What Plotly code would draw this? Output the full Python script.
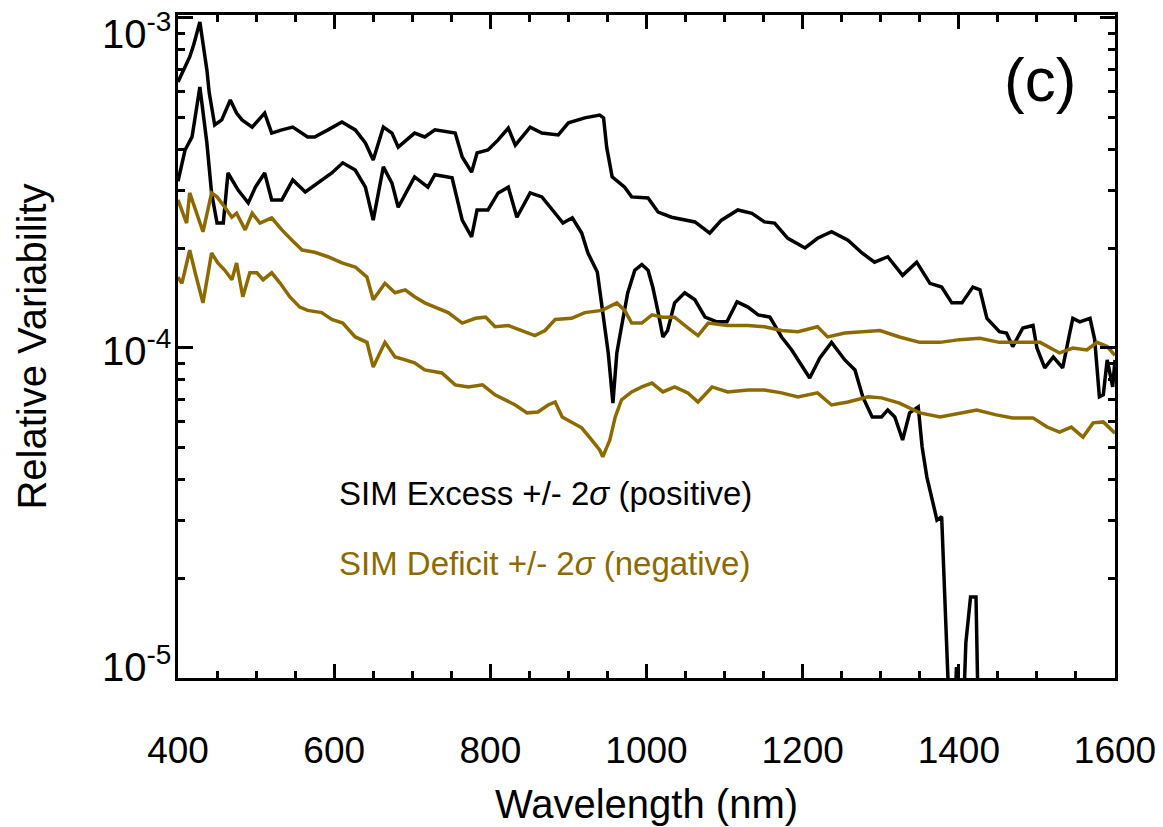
import numpy as np
import plotly.graph_objects as go

# ---- data (values in units of 1e-4) ----
wl_excess_hi = [400, 405, 415, 420, 428, 437, 440, 447, 456, 467, 475, 482, 495, 511, 520, 533, 547, 566, 575,
                592, 610, 627, 640, 650, 663, 674, 682, 703, 716, 729, 755, 764, 776, 783, 797, 810, 823,
                832, 851, 866, 887, 900, 921, 940, 945, 949, 956, 972, 981, 1002, 1015, 1032, 1062, 1081,
                1096, 1117, 1135, 1151, 1164, 1181, 1203, 1219, 1237, 1258, 1276, 1292, 1309, 1328, 1346,
                1363, 1378, 1391, 1404, 1418, 1427, 1436, 1452, 1461, 1469, 1482, 1495, 1500, 1510, 1521,
                1533, 1542, 1546, 1555, 1568, 1574, 1580, 1585, 1590, 1597, 1600]
excess_hi = [6.40, 6.81, 7.62, 8.28, 9.72, 6.96, 5.93, 4.74, 4.91, 5.64, 5.15, 4.91, 4.67, 5.15, 4.48, 4.58,
             4.67, 4.36, 4.36, 4.58, 4.84, 4.58, 4.18, 3.71, 4.67, 4.48, 4.06, 4.48, 4.36, 4.58, 4.48, 3.79,
             3.41, 3.90, 3.98, 4.27, 4.64, 4.12, 4.67, 4.48, 4.42, 4.81, 4.98, 5.08, 4.98, 4.06, 3.30, 3.07,
             2.87, 2.85, 2.58, 2.49, 2.41, 2.23, 2.44, 2.62, 2.56, 2.41, 2.39, 2.15, 2.01, 2.15, 2.25, 2.12,
             1.94, 1.82, 1.89, 1.66, 1.82, 1.57, 1.53, 1.37, 1.37, 1.53, 1.50, 1.23, 1.12, 1.11, 1.01, 1.15,
             1.17, 1.00, 0.870, 0.939, 0.870, 1.11, 1.23, 1.20, 1.23, 1.06, 0.711, 0.721, 0.920, 0.762, 0.92]

wl_excess_lo = [400, 409, 418, 428, 437, 443, 450, 458, 464, 477, 490, 499, 511, 520, 533, 547, 563, 579, 597,
                611, 627, 640, 650, 663, 674, 682, 703, 720, 729, 751, 764, 776, 783, 797, 810, 823, 834,
                851, 866, 883, 893, 905, 917, 925, 937, 944, 951, 957, 962, 968, 976, 985, 994, 1002, 1008,
                1015, 1021, 1027, 1036, 1049, 1062, 1075, 1090, 1103, 1116, 1130, 1143, 1158, 1173, 1186,
                1200, 1209, 1222, 1237, 1254, 1267, 1277, 1289, 1301, 1309, 1318, 1328, 1337, 1348, 1353,
                1359, 1366, 1372, 1378, 1381, 1386, 1391, 1397, 1403, 1409, 1415, 1422, 1428]
excess_lo = [3.20, 3.98, 4.36, 6.18, 4.18, 2.95, 2.39, 2.39, 3.39, 3.01, 2.75, 3.07, 3.39, 2.81, 2.81, 3.23,
             2.97, 3.16, 3.39, 3.64, 3.46, 3.07, 2.44, 3.54, 3.16, 2.67, 3.30, 3.07, 3.35, 3.28, 2.44, 2.17,
             2.62, 2.62, 2.95, 3.07, 2.49, 2.95, 2.87, 2.56, 2.39, 2.48, 2.23, 1.94, 1.70, 1.28, 0.966, 0.681,
             0.966, 1.16, 1.47, 1.72, 1.79, 1.72, 1.53, 1.28, 1.08, 1.13, 1.37, 1.47, 1.40, 1.24, 1.20, 1.20,
             1.38, 1.33, 1.26, 1.24, 1.08, 0.986, 0.876, 0.811, 0.933, 1.04, 0.920, 0.858, 0.711, 0.618,
             0.618, 0.649, 0.618, 0.526, 0.636, 0.663, 0.501, 0.407, 0.346, 0.301, 0.308, 0.202, 0.108,
             0.05, 0.108, 0.05, 0.128, 0.176, 0.176, 0.03]

wl_deficit_hi = [400, 405, 411, 415, 422, 432, 443, 450, 460, 469, 475, 486, 495, 505, 520, 533, 546, 559, 575,
                 592, 610, 627, 642, 650, 665, 678, 691, 703, 716, 729, 746, 764, 781, 794, 806, 823, 840,
                 857, 870, 883, 904, 921, 943, 962, 972, 981, 994, 1007, 1021, 1036, 1053, 1066, 1079, 1104,
                 1130, 1151, 1173, 1194, 1219, 1232, 1254, 1279, 1299, 1324, 1350, 1376, 1401, 1427, 1452,
                 1478, 1504, 1529, 1546, 1564, 1577, 1590, 1600]
deficit_hi = [2.81, 2.62, 2.39, 2.95, 2.62, 2.25, 2.95, 2.87, 2.67, 2.49, 2.56, 2.28, 2.56, 2.39, 2.48, 2.28,
              2.12, 1.98, 1.95, 1.89, 1.81, 1.76, 1.64, 1.40, 1.57, 1.47, 1.50, 1.43, 1.37, 1.33, 1.28, 1.19,
              1.23, 1.24, 1.16, 1.17, 1.13, 1.09, 1.13, 1.22, 1.23, 1.28, 1.30, 1.37, 1.30, 1.19, 1.19, 1.26,
              1.24, 1.24, 1.15, 1.09, 1.19, 1.17, 1.17, 1.16, 1.13, 1.12, 1.16, 1.08, 1.11, 1.12, 1.13, 1.08,
              1.04, 1.04, 1.06, 1.07, 1.04, 1.04, 1.04, 0.966, 1.00, 0.986, 1.04, 1.01, 0.95]

wl_deficit_lo = [400, 405, 409, 415, 422, 432, 443, 451, 460, 469, 475, 483, 492, 501, 509, 520, 531, 543, 556,
                 566, 584, 597, 611, 627, 642, 650, 665, 678, 691, 703, 716, 738, 755, 772, 790, 806, 819,
                 832, 847, 861, 874, 883, 892, 905, 917, 930, 940, 944, 953, 960, 968, 981, 994, 1007, 1021,
                 1036, 1053, 1066, 1084, 1104, 1130, 1151, 1173, 1194, 1219, 1237, 1258, 1284, 1301, 1324,
                 1350, 1376, 1401, 1423, 1448, 1469, 1495, 1513, 1529, 1544, 1559, 1572, 1585, 1600]
deficit_lo = [1.64, 1.57, 1.72, 1.98, 1.69, 1.37, 1.94, 1.81, 1.72, 1.61, 1.81, 1.43, 1.69, 1.69, 1.61, 1.69,
              1.57, 1.43, 1.33, 1.30, 1.28, 1.22, 1.19, 1.08, 1.04, 0.876, 1.04, 0.939, 0.920, 0.901, 0.858,
              0.840, 0.773, 0.762, 0.773, 0.721, 0.696, 0.672, 0.636, 0.640, 0.672, 0.686, 0.618, 0.593,
              0.573, 0.526, 0.491, 0.468, 0.526, 0.618, 0.696, 0.736, 0.762, 0.783, 0.736, 0.762, 0.731,
              0.686, 0.762, 0.736, 0.746, 0.746, 0.731, 0.711, 0.731, 0.672, 0.686, 0.711, 0.706, 0.681,
              0.636, 0.618, 0.636, 0.649, 0.627, 0.614, 0.614, 0.576, 0.556, 0.576, 0.537, 0.593, 0.597, 0.552]

UNIT = 1e-4
x_ticks = [400, 600, 800, 1000, 1200, 1400, 1600]
y_ticks = [1e-5, 1e-4, 1e-3]
y_ticktext = ["10<sup>-5</sup>", "10<sup>-4</sup>", "10<sup>-3</sup>"]
y_label_shift = [14, 0, -13]   # IDL-style label offsets (px) relative to tick
y_minor = [k * 10.0 ** e for e in (-5, -4) for k in range(2, 10)]

BLACK = "#000000"
GOLD = "#8c6a00"
FONT = "Liberation Sans, Arial, Helvetica, sans-serif"

fig = go.Figure()
for wl, vals, col in [(wl_excess_hi, excess_hi, BLACK), (wl_excess_lo, excess_lo, BLACK),
                      (wl_deficit_hi, deficit_hi, GOLD), (wl_deficit_lo, deficit_lo, GOLD)]:
    fig.add_trace(go.Scatter(x=wl, y=np.array(vals) * UNIT, mode="lines",
                             line=dict(color=col, width=3.5, shape="linear"), showlegend=False))

fig.update_layout(
    width=1163, height=827,
    margin=dict(l=178, r=48, t=15, b=149, autoexpand=False),
    paper_bgcolor="white", plot_bgcolor="white",
    font=dict(family=FONT, color="black"),
    showlegend=False,
)
fig.update_xaxes(
    range=[400, 1600], tickvals=x_ticks, ticks="inside", ticklen=14, tickwidth=2.5, tickcolor="black",
    showline=True, linewidth=3, linecolor="black", mirror="allticks", showgrid=False, zeroline=False,
    tickfont=dict(size=37), ticklabelstandoff=38, automargin=False,
    minor=dict(dtick=50, ticks="inside", ticklen=7, tickwidth=2.5, tickcolor="black", showgrid=False),
    title=dict(text="Wavelength (nm)", font=dict(size=40), standoff=20),
)
fig.update_yaxes(
    type="log", range=[-5.0, -2.991], tickvals=y_ticks, ticktext=y_ticktext,
    ticks="inside", ticklen=15, tickwidth=2.5, tickcolor="black",
    showline=True, linewidth=3, linecolor="black", mirror="allticks", showgrid=False, zeroline=False,
    showticklabels=False, tickfont=dict(size=40), automargin=False,
    minor=dict(tickmode="array", tickvals=y_minor, ticks="inside", ticklen=7, tickwidth=2.5,
               tickcolor="black", showgrid=False),
    title=dict(text="Relative Variability", font=dict(size=40), standoff=117),
)

# y tick labels, placed at the tick values on the log axis
for val, txt, dy in zip(y_ticks, y_ticktext, y_label_shift):
    fig.add_annotation(x=0, xref="paper", y=np.log10(val), yref="y", text=txt, showarrow=False,
                       xanchor="right", yanchor="middle", xshift=-5, yshift=dy,
                       font=dict(size=40, color="black"))

fig.add_annotation(x=0.92, y=0.902, xref="paper", yref="paper", text="(c)", showarrow=False,
                   font=dict(size=62, color="black"), xanchor="center", yanchor="middle")
fig.add_annotation(x=0.170, y=0.279, xref="paper", yref="paper",
                   text="SIM Excess +/- 2<i>σ</i> (positive)", showarrow=False,
                   font=dict(size=33, color=BLACK), xanchor="left", yanchor="middle")
fig.add_annotation(x=0.170, y=0.173, xref="paper", yref="paper",
                   text="SIM Deficit +/- 2<i>σ</i> (negative)", showarrow=False,
                   font=dict(size=33, color=GOLD), xanchor="left", yanchor="middle")

fig.write_html("out.html")
